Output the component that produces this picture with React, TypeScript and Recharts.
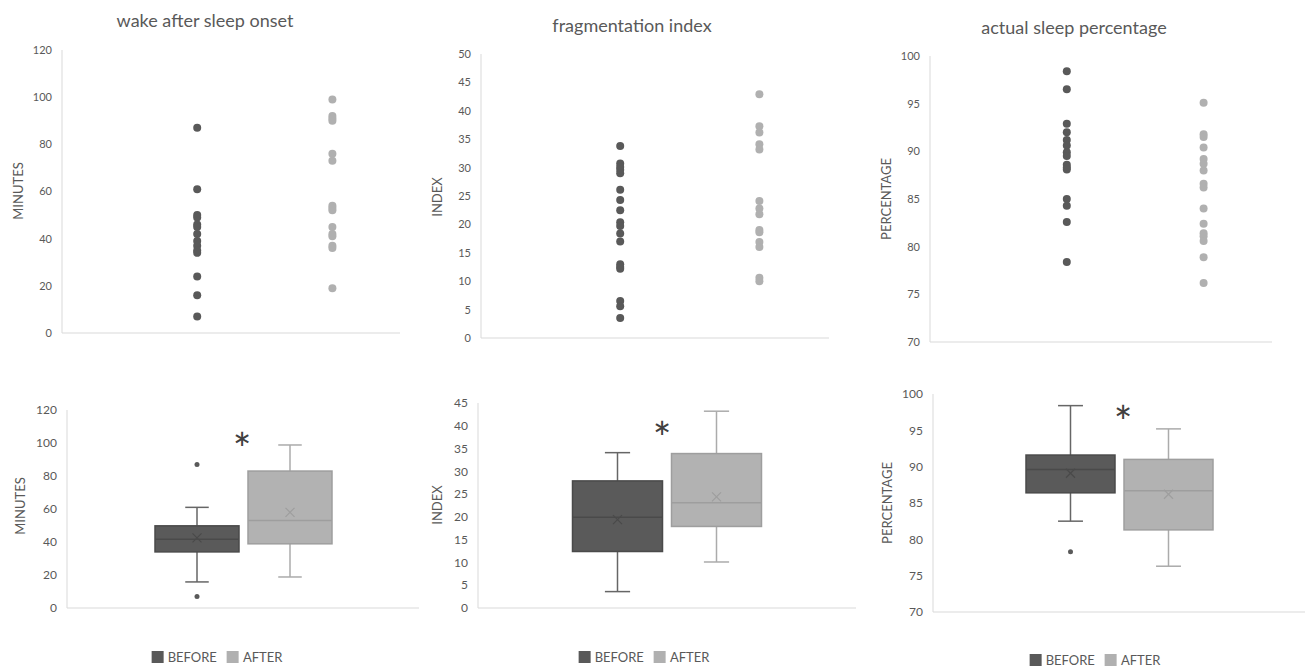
import { Bar, BarChart, Scatter, ScatterChart, XAxis, YAxis } from "recharts";

const DARK = "#595959";
const LIGHT = "#b0b0b0";
const AXIS = "#d9d9d9";
const TEXT = "#595959";
const FONT = "Lato, 'Open Sans', sans-serif";

// wake after sleep onset (minutes)
const wasoBefore = [87, 61, 50, 49, 46, 45, 42, 39, 37, 35, 34, 24, 16, 7];
const wasoAfter = [99, 92, 91, 90, 76, 73, 54, 53, 52, 45, 42, 41, 37, 36, 19];
// fragmentation index
const fiBefore = [33.8, 30.7, 30.1, 29.6, 29, 26.1, 24.3, 22.5, 20.4, 19.7, 18.4, 17, 13, 12.5, 12.2, 6.5, 5.6, 3.5];
const fiAfter = [42.9, 37.3, 36.2, 34.1, 33.2, 24.1, 22.8, 21.8, 19, 18.6, 16.9, 16, 10.6, 10];
// actual sleep percentage
const aspBefore = [98.4, 96.5, 92.9, 92, 91.2, 90.6, 89.9, 89.5, 88.6, 88.3, 88.1, 85, 84.3, 82.6, 78.4];
const aspAfter = [95.1, 91.8, 91.5, 90.4, 89.2, 88.7, 88, 86.6, 86.2, 84, 82.4, 81.4, 81.1, 80.6, 78.9, 76.2];

// box stats: [min, q1, median, q3, max]
const wasoBeforeBox = [15.8, 34, 41.7, 49.8, 61];
const wasoAfterBox = [18.8, 38.9, 53, 83, 98.8];
const fiBeforeBox = [3.6, 12.4, 19.9, 27.9, 34.1];
const fiAfterBox = [10.1, 17.9, 23.1, 33.9, 43.2];
const aspBeforeBox = [82.5, 86.4, 89.6, 91.6, 98.4];
const aspAfterBox = [76.3, 81.3, 86.7, 91, 95.2];
const wasoMeans = [42.5, 58];
const fiMeans = [19.4, 24.4];
const aspMeans = [89.1, 86.2];
const wasoBeforeOutliers = [87, 7];
const aspBeforeOutliers = [78.3];

const ticks120 = [0, 20, 40, 60, 80, 100, 120];
const ticks50 = [0, 5, 10, 15, 20, 25, 30, 35, 40, 45, 50];
const ticks45 = [0, 5, 10, 15, 20, 25, 30, 35, 40, 45];
const ticks70 = [70, 75, 80, 85, 90, 95, 100];

type Box = { left: number; top: number; width: number; height: number };
type Plot = { left: number; top: number; right: number; bottom: number };

function layout(box: Box, plot: Plot) {
  return {
    margin: {
      top: plot.top - box.top,
      right: box.left + box.width - plot.right,
      bottom: box.top + box.height - plot.bottom - 1,
      left: 0,
    },
    yWidth: plot.left - box.left,
  };
}

const tickSmall = { fill: TEXT, fontSize: 11, fontFamily: FONT };
const tickLarge = { fill: TEXT, fontSize: 12, fontFamily: FONT };

function DotPanel({ box, plot, ticks, before, after }: any) {
  const { margin, yWidth } = layout(box, plot);
  const b = before.map((v: number) => ({ x: 1, y: v }));
  const a = after.map((v: number) => ({ x: 2, y: v }));
  return (
    <div style={{ position: "absolute", left: box.left, top: box.top }}>
      <ScatterChart width={box.width} height={box.height} margin={margin}>
        <XAxis type="number" dataKey="x" domain={[0, 2.5]} tick={false} tickLine={false} axisLine={{ stroke: AXIS }} height={1} />
        <YAxis
          type="number"
          dataKey="y"
          domain={[ticks[0], ticks[ticks.length - 1]]}
          ticks={ticks}
          interval={0}
          width={yWidth}
          tick={tickSmall}
          tickLine={false}
          tickMargin={4}
          axisLine={{ stroke: AXIS }}
        />
        <Scatter data={b} isAnimationActive={false} shape={(p: any) => <circle cx={p.cx} cy={p.cy} r={4} fill={DARK} />} />
        <Scatter data={a} isAnimationActive={false} shape={(p: any) => <circle cx={p.cx} cy={p.cy} r={4} fill={LIGHT} />} />
      </ScatterChart>
    </div>
  );
}

function boxShape(stats: number[], mean: number, outliers: number[], c: any) {
  return (p: any) => {
    const top = Math.min(p.y, p.y + p.height);
    const h = Math.abs(p.height);
    const [min, q1, med, q3, max] = stats;
    const ppu = h / (q3 - q1);
    const toY = (v: number) => top + (q3 - v) * ppu;
    const cx = p.x + p.width / 2;
    const cap = p.width * 0.14;
    const my = toY(mean);
    return (
      <g>
        <line x1={cx} x2={cx} y1={toY(max)} y2={top} stroke={c.whisker} strokeWidth={1.5} />
        <line x1={cx - cap} x2={cx + cap} y1={toY(max)} y2={toY(max)} stroke={c.whisker} strokeWidth={1.5} />
        <line x1={cx} x2={cx} y1={top + h} y2={toY(min)} stroke={c.whisker} strokeWidth={1.5} />
        <line x1={cx - cap} x2={cx + cap} y1={toY(min)} y2={toY(min)} stroke={c.whisker} strokeWidth={1.5} />
        <rect x={p.x} y={top} width={p.width} height={h} fill={c.fill} stroke={c.edge} strokeWidth={1.5} />
        <line x1={p.x} x2={p.x + p.width} y1={toY(med)} y2={toY(med)} stroke={c.edge} strokeWidth={1.5} />
        <line x1={cx - 4.5} x2={cx + 4.5} y1={my - 4.5} y2={my + 4.5} stroke={c.edge} strokeWidth={1.2} />
        <line x1={cx - 4.5} x2={cx + 4.5} y1={my + 4.5} y2={my - 4.5} stroke={c.edge} strokeWidth={1.2} />
        {outliers.map((o, i) => (
          <circle key={i} cx={cx} cy={toY(o)} r={2.5} fill={c.fill} />
        ))}
      </g>
    );
  };
}

const darkStyle = { fill: "#5a5a5a", edge: "#4a4a4a", whisker: "#666666" };
const lightStyle = { fill: "#b2b2b2", edge: "#9e9e9e", whisker: "#ababab" };

function BoxPanel({ box, plot, ticks, before, after, means, beforeOut = [], afterOut = [] }: any) {
  const { margin, yWidth } = layout(box, plot);
  const data = [{ name: "", before: [before[1], before[3]], after: [after[1], after[3]] }];
  return (
    <div style={{ position: "absolute", left: box.left, top: box.top }}>
      <BarChart width={box.width} height={box.height} margin={margin} data={data} barCategoryGap="25%" barGap={9}>
        <XAxis dataKey="name" tick={false} tickLine={false} axisLine={{ stroke: AXIS }} height={1} />
        <YAxis
          type="number"
          domain={[ticks[0], ticks[ticks.length - 1]]}
          ticks={ticks}
          interval={0}
          width={yWidth}
          tick={tickLarge}
          tickLine={false}
          tickMargin={4}
          axisLine={{ stroke: AXIS }}
        />
        <Bar dataKey="before" name="BEFORE" fill={DARK} isAnimationActive={false} shape={boxShape(before, means[0], beforeOut, darkStyle)} />
        <Bar dataKey="after" name="AFTER" fill={LIGHT} isAnimationActive={false} shape={boxShape(after, means[1], afterOut, lightStyle)} />
      </BarChart>
    </div>
  );
}

function Title({ text, x, y }: any) {
  return (
    <div style={{ position: "absolute", left: x, top: y, transform: "translate(-50%, -50%)", whiteSpace: "nowrap", fontSize: 18, color: TEXT, fontFamily: FONT }}>
      {text}
    </div>
  );
}

function AxisTitle({ text, x, y }: any) {
  return (
    <div style={{ position: "absolute", left: x, top: y, transform: "translate(-50%, -50%) rotate(-90deg)", whiteSpace: "nowrap", fontSize: 13, color: TEXT, fontFamily: FONT }}>
      {text}
    </div>
  );
}

function Star({ x, y }: any) {
  return (
    <div style={{ position: "absolute", left: x, top: y, transform: "translate(-50%, -32%)", fontSize: 44, lineHeight: 1, color: "#404040", fontFamily: FONT }}>
      *
    </div>
  );
}

function Legend({ x, y }: any) {
  const item = (color: string, label: string) => (
    <span style={{ display: "inline-flex", alignItems: "center", marginRight: 10 }}>
      <span style={{ display: "inline-block", width: 12, height: 12, background: color, marginRight: 4 }} />
      {label}
    </span>
  );
  return (
    <div style={{ position: "absolute", left: x, top: y, transform: "translate(-50%, -50%)", whiteSpace: "nowrap", fontSize: 13, color: TEXT, fontFamily: FONT, display: "flex" }}>
      {item(DARK, "BEFORE")}
      {item(LIGHT, "AFTER")}
    </div>
  );
}

export default function App() {
  return (
    <div style={{ position: "absolute", left: 0, top: 0, width: 1309, height: 668, background: "#fff", overflow: "hidden" }}>
      <Title text="wake after sleep onset" x={205} y={20} />
      <Title text="fragmentation index" x={632} y={25} />
      <Title text="actual sleep percentage" x={1074} y={27} />

      <DotPanel box={{ left: 0, top: 30, width: 420, height: 320 }} plot={{ left: 62, top: 50, right: 400, bottom: 333 }} ticks={ticks120} before={wasoBefore} after={wasoAfter} />
      <DotPanel box={{ left: 420, top: 30, width: 430, height: 320 }} plot={{ left: 481, top: 54, right: 829, bottom: 338 }} ticks={ticks50} before={fiBefore} after={fiAfter} />
      <DotPanel box={{ left: 860, top: 30, width: 440, height: 330 }} plot={{ left: 930, top: 56, right: 1272, bottom: 342 }} ticks={ticks70} before={aspBefore} after={aspAfter} />

      <BoxPanel box={{ left: 0, top: 390, width: 440, height: 240 }} plot={{ left: 67, top: 410, right: 419, bottom: 608 }} ticks={ticks120} before={wasoBeforeBox} after={wasoAfterBox} means={wasoMeans} beforeOut={wasoBeforeOutliers} />
      <BoxPanel box={{ left: 420, top: 385, width: 445, height: 240 }} plot={{ left: 478, top: 403, right: 856, bottom: 608 }} ticks={ticks45} before={fiBeforeBox} after={fiAfterBox} means={fiMeans} />
      <BoxPanel box={{ left: 870, top: 380, width: 439, height: 245 }} plot={{ left: 933, top: 394, right: 1305, bottom: 612 }} ticks={ticks70} before={aspBeforeBox} after={aspAfterBox} means={aspMeans} beforeOut={aspBeforeOutliers} />

      <AxisTitle text="MINUTES" x={18} y={191} />
      <AxisTitle text="INDEX" x={437} y={197} />
      <AxisTitle text="PERCENTAGE" x={886} y={199} />
      <AxisTitle text="MINUTES" x={20} y={506} />
      <AxisTitle text="INDEX" x={437} y={505} />
      <AxisTitle text="PERCENTAGE" x={887} y={503} />

      <Star x={242} y={440} />
      <Star x={662} y={429} />
      <Star x={1123} y={413} />

      <Legend x={222} y={657} />
      <Legend x={649} y={657} />
      <Legend x={1100} y={660} />
    </div>
  );
}
